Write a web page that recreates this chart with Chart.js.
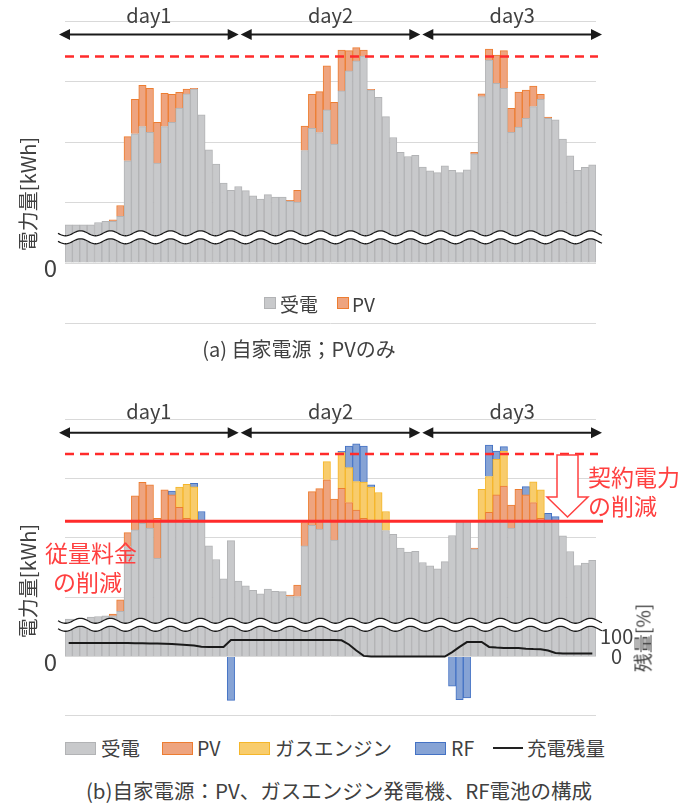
<!DOCTYPE html>
<html>
<head>
<meta charset="utf-8">
<script src="https://cdn.jsdelivr.net/npm/chart.js@4/dist/chart.umd.min.js"></script>
<style>
body{margin:0;background:#fff;font-family:"Noto Sans CJK JP","Noto Sans",sans-serif;color:#404040;}
#wrap{position:relative;width:678px;height:805px;overflow:hidden;}
canvas{position:absolute;left:0;}
.t{position:absolute;white-space:nowrap;line-height:1;transform:translateY(-50%);}
.c{transform:translate(-50%,-50%);}
.rot{transform:translate(-50%,-50%) rotate(-90deg);}
.box{position:absolute;box-sizing:border-box;}
.ln{position:absolute;height:2px;background:#222;}
</style>
</head>
<body>
<div id="wrap">
  <canvas id="chartA" width="678" height="340" style="top:0"></canvas>
  <canvas id="chartB" width="678" height="345" style="top:380px"></canvas>

  <div class="t rot" style="left:28px;top:194px;font-size:20px">電力量[kWh]</div>
  <div class="t rot" style="left:28px;top:581px;font-size:20px">電力量[kWh]</div>
  <div class="t rot" style="left:642px;top:638px;font-size:19px">残量[%]</div>

  <!-- legend (a) -->
  <div class="box" style="left:264px;top:297px;width:12px;height:12px;background:#c8c9cb;border:1px solid #b2b3b5"></div>
  <div class="t" style="left:280px;top:303px;font-size:19px">受電</div>
  <div class="box" style="left:337px;top:297px;width:12px;height:12px;background:#eea47f;border:1px solid #ed7d31"></div>
  <div class="t" style="left:352px;top:303px;font-size:19px">PV</div>
  <div class="t c" style="left:299px;top:349px;font-size:20px">(a) 自家電源；PVのみ</div>

  <!-- legend (b) -->
  <div class="box" style="left:65px;top:742px;width:31px;height:13px;background:#c8c9cb;border:1px solid #b2b3b5"></div>
  <div class="t" style="left:101px;top:748px;font-size:19.5px">受電</div>
  <div class="box" style="left:162px;top:742px;width:31px;height:13px;background:#eea47f;border:1px solid #ed7d31"></div>
  <div class="t" style="left:197px;top:748px;font-size:19.5px">PV</div>
  <div class="box" style="left:239px;top:742px;width:31px;height:13px;background:#f8cc6c;border:1px solid #f5b62a"></div>
  <div class="t" style="left:275px;top:748px;font-size:19.5px">ガスエンジン</div>
  <div class="box" style="left:415px;top:742px;width:31px;height:13px;background:#86a3d5;border:1px solid #4472c4"></div>
  <div class="t" style="left:451px;top:748px;font-size:19.5px">RF</div>
  <div class="ln" style="left:493px;top:747px;width:30px"></div>
  <div class="t" style="left:527px;top:748px;font-size:19.5px">充電残量</div>
  <div class="t c" style="left:339px;top:790px;font-size:20.5px">(b)自家電源：PV、ガスエンジン発電機、RF電池の構成</div>
</div>

<script>
const days = ['day1', 'day2', 'day3'];
const hours = Array.from({length: 24}, (_, h) => h + '時');
const labels = days.flatMap(d => hours.map(h => d + ' ' + h));

// (a) 自家電源：PVのみ
const gridA = [12.65,12.65,12.65,12.65,13.4,13.75,13.75,15.4,33.8,42.7,45.1,43.2,33.0,45.1,46.5,51.2,55.9,57.5,49.0,37.4,32.7,26.4,24.0,25.3,
  23.9,22.2,21.1,22.6,21.8,21.8,20.35,20.1,37.2,44.55,43.1,50.6,39.3,56.9,63.5,66.8,68.4,57.2,54.8,48.4,41.5,36.6,35.2,35.6,
  31.7,30.5,29.9,32.1,30.6,29.9,30.8,36.1,55.0,67.1,59.4,57.75,43.2,44.9,47.85,51.7,54.1,47.85,47.3,41.0,35.4,30.6,31.6,32.45];
const pvA = [0,0,0,0,0,0,0.55,3.6,8.0,11.4,13.6,14.55,13.5,11.0,9.3,5.2,1.6,0.25,0,0,0,0,0,0,
  0,0,0,0,0,0,0.35,3.9,8.1,11.25,13.55,14.6,13.8,13.5,6.7,4.4,2.0,0.2,0,0,0,0,0,0,
  0,0,0,0,0,0,0,0.5,0.9,3.6,9.35,12.45,7.95,11.6,9.35,6.8,1.7,0.35,0,0,0,0,0,0];

// (b) 自家電源：PV、ガスエンジン発電機、RF電池
const gridB = [12.6,12.6,12.6,13.3,13.5,13.7,13.7,15.2,37.1,42.7,44.9,43.3,33.1,45.6,45.6,45.6,45.6,45.6,45.6,37.3,32.7,26.2,39.1,25.4,
  23.8,22.3,21.1,22.7,22.0,21.9,20.2,20.2,37.3,44.2,43.0,45.6,39.3,45.6,45.6,45.6,45.6,45.6,45.6,42.5,41.2,36.6,35.2,35.5,
  31.7,30.6,29.6,32.0,40.8,45.6,45.6,36.2,45.6,45.6,45.6,45.6,43.3,45.6,45.6,45.6,45.6,45.6,45.6,40.7,35.4,30.7,31.5,32.4];
const pvB = [0,0,0,0,0,0,0.6,3.9,4.7,11.5,13.8,14.6,13.5,10.6,8.9,4.7,1.0,0.3,0,0,0,0,0,0,
  0,0,0,0,0,0,0.5,3.9,7.9,11.4,13.6,14.0,13.8,11.1,6.3,3.8,1.0,0,0,0,0,0,0,0,
  0,0,0,0,0,0,0,0.4,0.5,3.0,8.9,11.9,7.8,10.8,8.9,6.3,1.0,0,0,0,0,0,0,0];
const gasB = [0,0,0,0,0,0,0,0,0,0,0,0,0,0,0,6.8,11.5,11.3,0,0,0,0,0,0,
  0,0,0,0,0,0,0,0,0,0,0,6.1,0,12.1,11.8,9.6,12.2,11.5,9.7,6.4,0,0,0,0,
  0,0,0,0,0,0,0,0,10.3,12.1,12.0,11.8,0,0,0,7.0,9.6,0,0,0,0,0,0,0];
const rfB = [0,0,0,0,0,0,0,0,0,0,0,0,0,0,1.3,0,0,1.2,3.3,0,0,0,-14.8,0,
  0,0,0,0,0,0,0,0,0,0,0,0,0,0.4,7.3,12.7,12.2,0.8,0,0,0,0,0,0,
  0,0,0,0,-10,-14.6,-14.0,0,0,10.6,2.8,1.5,0,0,2.8,0,0,2.7,1.6,0,0,0,0,0];
const chargeB = [68,68,68,68,68,68,67,67,67,66,66,65,65,64,62,60,58,55,49,48,48,48,82,82,
  82,82,82,82,82,82,82,82,82,82,82,82,82,81,60,30,3,0,0,0,0,0,0,0,
  0,0,0,0,22,48,72,73,73,48,45,43,42,42,39,37,36,30,18,15,15,15,15,15];

const contractOld = 68.3;
const contractNew = 45.6;

const GRAY = '#c8c9cb', GRAY_B = '#b2b3b5';
const PV = '#eea47f', PV_B = '#ed7d31';
const GAS = '#f8cc6c', GAS_B = '#f5b62a';
const RF = '#86a3d5', RF_B = '#4472c4';
const RED = '#ff2b2b';

const nz = a => a.map(v => v === 0 ? null : v);

function wave(ctx, x0, x1, y0, color, width, off) {
  ctx.beginPath();
  for (let px = x0; px <= x1; px++) {
    const yy = y0 + off + 2.5 * Math.sin((px - x0) / 30 * 2 * Math.PI);
    if (px === x0) ctx.moveTo(px, yy); else ctx.lineTo(px, yy);
  }
  ctx.strokeStyle = color;
  ctx.lineWidth = width;
  ctx.stroke();
}

function arrowHead(ctx, x, y, dir) {
  ctx.beginPath();
  ctx.moveTo(x, y);
  ctx.lineTo(x - dir * 11, y - 5.5);
  ctx.lineTo(x - dir * 11, y + 5.5);
  ctx.closePath();
  ctx.fill();
}

const deco = {
  id: 'deco',
  afterDatasetsDraw(chart, args, o) {
    const ctx = chart.ctx, xs = chart.scales.x, ys = chart.scales.y;
    const L = xs.left, R = xs.right;
    ctx.save();

    // axis break
    const yb = ys.getPixelForValue(o.breakAt);
    wave(ctx, L - 7, R + 6, yb, '#fff', 8, 0);
    wave(ctx, L - 7, R + 6, yb, '#1a1a1a', 1.3, -4);
    wave(ctx, L - 7, R + 6, yb, '#1a1a1a', 1.3, 4);

    // contract power lines
    ctx.strokeStyle = RED;
    ctx.lineWidth = 2.5;
    ctx.setLineDash([9, 6]);
    const yd = ys.getPixelForValue(contractOld);
    ctx.beginPath(); ctx.moveTo(L, yd); ctx.lineTo(R + 2, yd); ctx.stroke();
    ctx.setLineDash([]);
    if (o.solid) {
      const ys2 = ys.getPixelForValue(contractNew);
      ctx.lineWidth = 3;
      ctx.beginPath(); ctx.moveTo(L, ys2); ctx.lineTo(R + 7, ys2); ctx.stroke();
    }

    // day arrows
    const a0 = L - 7, a1 = R + 7, w = (a1 - a0) / 3;
    ctx.fillStyle = '#1a1a1a';
    ctx.strokeStyle = '#1a1a1a';
    ctx.lineWidth = 2;
    ctx.font = '20px "Noto Sans CJK JP", sans-serif';
    ctx.textAlign = 'center';
    ctx.textBaseline = 'alphabetic';
    days.forEach((d, i) => {
      const s = a0 + i * w + 1, e = a0 + (i + 1) * w - 1;
      ctx.beginPath(); ctx.moveTo(s + 5, o.arrowY); ctx.lineTo(e - 5, o.arrowY); ctx.stroke();
      arrowHead(ctx, s, o.arrowY, -1);
      arrowHead(ctx, e, o.arrowY, 1);
      ctx.fillStyle = '#404040';
      ctx.fillText(d, (s + e) / 2, o.labelY);
      ctx.fillStyle = '#1a1a1a';
    });

    // notes
    if (o.notes) {
      ctx.fillStyle = '#ff4040';
      ctx.textAlign = 'left';
      ctx.textBaseline = 'middle';
      ctx.font = '23px "Noto Sans CJK JP", sans-serif';
      o.notes.forEach(n => ctx.fillText(n.text, n.x, n.y));
    }
    if (o.hollow) {
      const h = o.hollow;
      ctx.beginPath();
      ctx.moveTo(h.x0, h.top);
      ctx.lineTo(h.x1, h.top);
      ctx.lineTo(h.x1, h.base);
      ctx.lineTo(h.w1, h.base);
      ctx.lineTo((h.x0 + h.x1) / 2, h.tip);
      ctx.lineTo(h.w0, h.base);
      ctx.lineTo(h.x0, h.base);
      ctx.closePath();
      ctx.fillStyle = '#fff';
      ctx.fill();
      ctx.strokeStyle = '#ff4040';
      ctx.lineWidth = 1.5;
      ctx.stroke();
    }
    ctx.restore();
  }
};

Chart.defaults.font.family = '"Noto Sans CJK JP", "Noto Sans", sans-serif';
Chart.defaults.color = '#404040';

function yAxis() {
  return {
    stacked: true,
    min: -20,
    max: 80,
    grid: {color: '#d9d9d9', drawTicks: false},
    border: {display: false},
    ticks: {stepSize: 20, padding: 8, labelOffset: 5, font: {size: 24}, callback: v => v === 0 ? '0' : ''},
    afterFit: s => { s.width = 65; s.paddingTop = 0; s.paddingBottom = 0; }
  };
}

function bar(label, data, bg, bd) {
  return {
    type: 'bar', label: label, data: nz(data), order: 1,
    backgroundColor: bg, borderColor: bd, borderWidth: 1,
    barPercentage: 1, categoryPercentage: 1
  };
}

new Chart(document.getElementById('chartA'), {
  type: 'bar',
  data: {
    labels: labels,
    datasets: [
      bar('受電', gridA, GRAY, GRAY_B),
      bar('PV', pvA, PV, PV_B)
    ]
  },
  options: {
    responsive: false,
    animation: false,
    devicePixelRatio: 1,
    layout: {padding: {left: 0, right: 82, top: 21, bottom: 16.5}},
    scales: {
      x: {stacked: true, display: false},
      y: yAxis()
    },
    plugins: {
      legend: {display: false},
      tooltip: {enabled: false},
      deco: {breakAt: 8.5, arrowY: 34.5, labelY: 22.5}
    }
  },
  plugins: [deco]
});

new Chart(document.getElementById('chartB'), {
  type: 'bar',
  data: {
    labels: labels,
    datasets: [
      {type: 'line', label: '充電残量', data: chargeB, yAxisID: 'y2', order: 0,
       borderColor: '#1a1a1a', borderWidth: 2, pointRadius: 0, tension: 0, fill: false},
      bar('受電', gridB, GRAY, GRAY_B),
      bar('PV', pvB, PV, PV_B),
      bar('ガスエンジン', gasB, GAS, GAS_B),
      bar('RF', rfB, RF, RF_B)
    ]
  },
  options: {
    responsive: false,
    animation: false,
    devicePixelRatio: 1,
    layout: {padding: {left: 0, right: 42, top: 39.3, bottom: 9.2}},
    scales: {
      x: {stacked: true, display: false},
      y: yAxis(),
      y2: {
        position: 'right',
        min: -296.5,
        max: 1186,
        grid: {display: false, drawTicks: false},
        border: {display: false},
        ticks: {padding: 4, autoSkip: false, crossAlign: 'center', font: {size: 20}},
        afterBuildTicks: s => { s.ticks = [{value: 0}, {value: 100}]; },
        afterFit: s => { s.width = 40; s.paddingTop = 0; s.paddingBottom = 0; }
      }
    },
    plugins: {
      legend: {display: false},
      tooltip: {enabled: false},
      deco: {
        breakAt: 10.7, arrowY: 52.7, labelY: 38.5, solid: true,
        notes: [
          {text: '従量料金', x: 45, y: 173},
          {text: 'の削減', x: 53, y: 202},
          {text: '契約電力', x: 588, y: 97},
          {text: 'の削減', x: 588, y: 126}
        ],
        hollow: {x0: 557, x1: 578, w0: 547, w1: 588, top: 75, base: 117, tip: 137}
      }
    }
  },
  plugins: [deco]
});
</script>
</body>
</html>
